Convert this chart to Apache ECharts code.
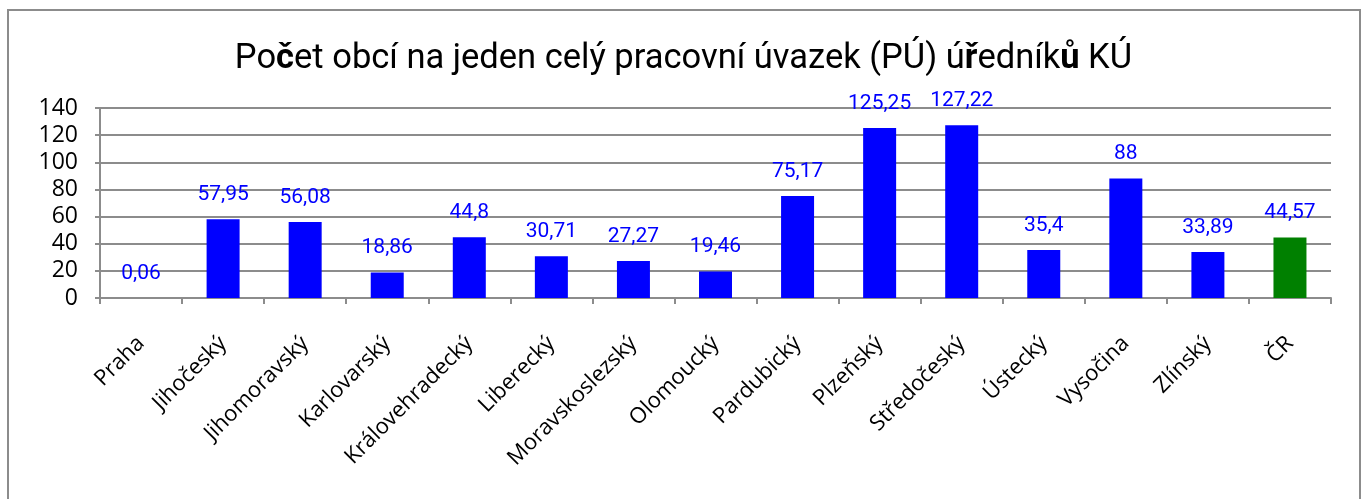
<!DOCTYPE html>
<html><head><meta charset="utf-8">
<script src="https://cdn.jsdelivr.net/npm/echarts@6/dist/echarts.min.js"></script>
<style>html,body{margin:0;padding:0;background:#fff}#c{width:1367px;height:499px}</style>
</head><body><div id="c"></div>
<script>
const categories = ['Praha','Jihočeský','Jihomoravský','Karlovarský','Královehradecký','Liberecký','Moravskoslezský','Olomoucký','Pardubický','Plzeňský','Středočeský','Ústecký','Vysočina','Zlínský','ČR'];
const values = [0.06,57.95,56.08,18.86,44.8,30.71,27.27,19.46,75.17,125.25,127.22,35.4,88,33.89,44.57];
const barColors = ['#0000FF','#0000FF','#0000FF','#0000FF','#0000FF','#0000FF','#0000FF','#0000FF','#0000FF','#0000FF','#0000FF','#0000FF','#0000FF','#0000FF','#008000'];
const yTicks = [0,20,40,60,80,100,120,140];
const titleText = 'Po{b|č}et obcí na jeden celý pracovní úvazek (PÚ) ú{b|ř}edník{b|ů} KÚ';

const chart = echarts.init(document.getElementById('c'));
chart.setOption({
  animation:false,
  backgroundColor:'#fff',
  graphic:[{type:'rect',shape:{x:8,y:10,width:1352,height:520},style:{fill:'none',stroke:'#8c8c8c',lineWidth:2},silent:true}],
  title:{text:titleText,left:'center',top:37,
    textStyle:{fontFamily:'Roboto',fontSize:34.5,fontWeight:'normal',color:'#000',
      rich:{b:{fontFamily:'Roboto',fontSize:34.5,fontWeight:'bold',color:'#000'}}}},
  grid:{left:100,right:36,top:108,bottom:201,containLabel:false},
  xAxis:{type:'category',data:categories,
    axisLine:{lineStyle:{color:'#8c8c8c',width:2}},
    axisTick:{show:true,length:6,lineStyle:{color:'#8c8c8c',width:2}},
    axisLabel:{rotate:45,margin:42,fontFamily:'Open Sans',fontSize:22,color:'#000',interval:0}},
  yAxis:{type:'value',min:yTicks[0],max:yTicks[yTicks.length-1],interval:yTicks[1]-yTicks[0],
    axisLine:{show:true,lineStyle:{color:'#8c8c8c',width:2}},
    axisTick:{show:true,length:5,lineStyle:{color:'#8c8c8c',width:2}},
    axisLabel:{margin:22,fontFamily:'Open Sans',fontSize:23,color:'#000'},
    splitLine:{lineStyle:{color:'#8c8c8c',width:2}}},
  series:[{type:'bar',barWidth:33,
    data:values.map((v,i)=>({value:v,itemStyle:{color:barColors[i]}})),
    label:{show:true,position:'top',distance:14,fontFamily:'Roboto',fontSize:21,color:'#0000FF',
      formatter:p=>String(p.value).replace('.',',')}}]
});
</script></body></html>
